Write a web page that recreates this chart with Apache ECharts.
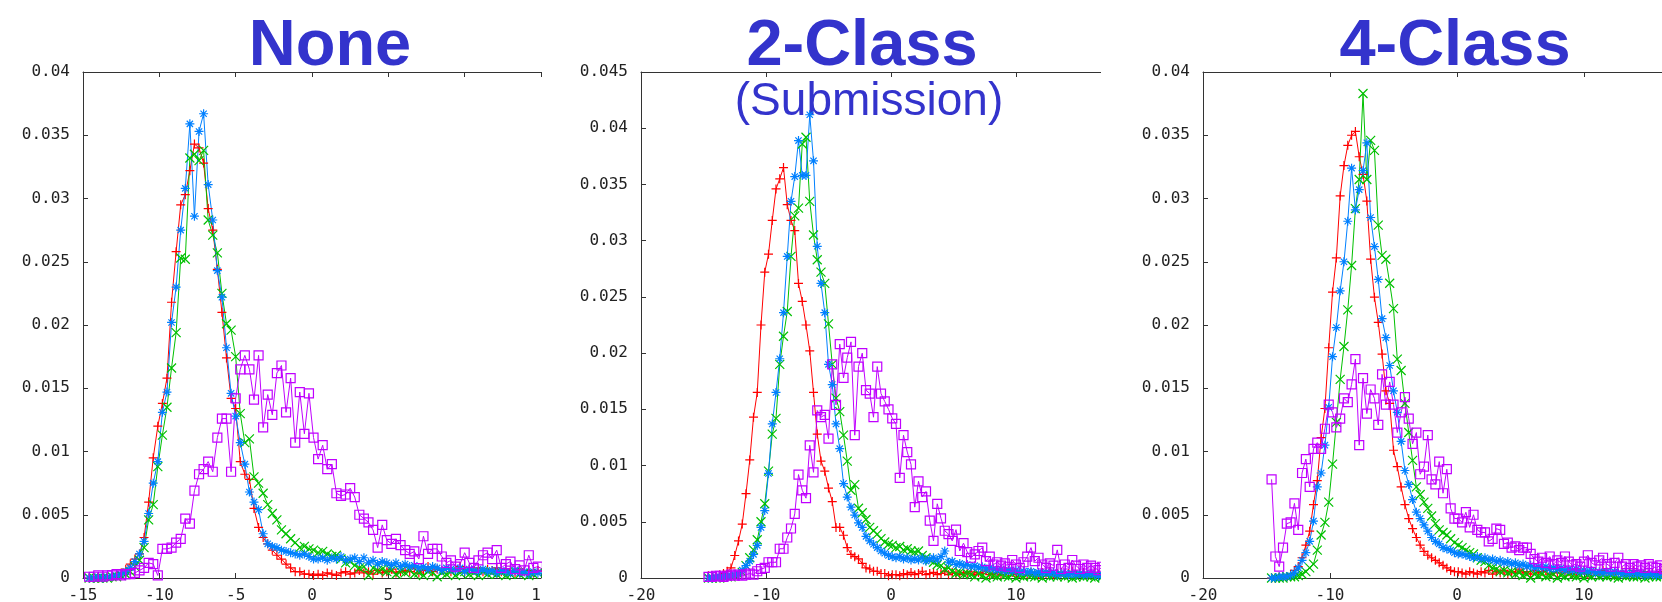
<!DOCTYPE html>
<html>
<head>
<meta charset="utf-8">
<script src="https://cdn.jsdelivr.net/npm/echarts@6/dist/echarts.min.js"></script>
<style>
html, body { margin: 0; padding: 0; background: #fff; }
#wrap { position: relative; width: 1662px; height: 602px; overflow: hidden; }
.cut { position: absolute; top: 0; height: 602px; overflow: hidden; }
.cut > div { height: 602px; }
</style>
</head>
<body>
<div id="wrap">
  <div class="cut" style="left:0;width:542px"><div id="p1" style="width:620px"></div></div>
  <div class="cut" style="left:542px;width:559px"><div id="p2" style="width:700px"></div></div>
  <div class="cut" style="left:1101px;width:561px"><div id="p3" style="width:700px"></div></div>
</div>
<script>
// bin centres shared by all histograms
var binX = [
  -14.6,-14.3,-14.0,-13.7,-13.4,-13.1,-12.8,-12.5,-12.2,-11.9,
  -11.6,-11.3,-11.0,-10.7,-10.4,-10.1,-9.8,-9.5,-9.2,-8.9,
  -8.6,-8.3,-8.0,-7.7,-7.4,-7.1,-6.8,-6.5,-6.2,-5.9,
  -5.6,-5.3,-5.0,-4.7,-4.4,-4.1,-3.8,-3.5,-3.2,-2.9,
  -2.6,-2.3,-2.0,-1.7,-1.4,-1.1,-0.8,-0.5,-0.2,0.1,
  0.4,0.7,1.0,1.3,1.6,1.9,2.2,2.5,2.8,3.1,
  3.4,3.7,4.0,4.3,4.6,4.9,5.2,5.5,5.8,6.1,
  6.4,6.7,7.0,7.3,7.6,7.9,8.2,8.5,8.8,9.1,
  9.4,9.7,10.0,10.3,10.6,10.9,11.2,11.5,11.8,12.1,
  12.4,12.7,13.0,13.3,13.6,13.9,14.2,14.5,14.8,15.1,
  15.4,15.7,16.0,16.3,16.6,16.9
];

// ---- None ----
var noneRed = [
  0,0,0,0,0.0001,0.0001,0.0002,0.0004,0.0007,0.0011,
  0.0015,0.0019,0.0032,0.006,0.0095,0.012,0.0138,0.0158,0.0218,0.0258,
  0.0295,0.0303,0.0322,0.0343,0.034,0.0328,0.0292,0.0275,0.0244,0.021,
  0.0174,0.0142,0.0134,0.0092,0.0082,0.0078,0.0055,0.004,0.0032,0.0027,
  0.0022,0.0018,0.0015,0.0011,0.0008,0.0005,0.0005,0.0003,0.0003,0.0002,
  0.0003,0.0002,0.0004,0.0003,0.0002,0.0004,0.0005,0.0003,0.0004,0.0006,
  0.0004,0.0005,0.0003,0.0006,0.0004,0.0005,0.0007,0.0004,0.0005,0.0006,
  0.0005,0.0008,0.0004,0.0006,0.0009,0.0005,0.0007,0.0006,0.0008,0.0005,
  0.0006,0.0009,0.0005,0.0007,0.0006,0.0008,0.0005,0.0007,0.0006,0.0008,
  0.0005,0.0007,0.0006,0.0004,0.0007,0.0005,0.0006,0.0004,0.0006,0.0005,
  0.0004,0.0006,0.0005,0.0004,0.0005,0.0004
];
var noneGreen = [
  0,0,0,0,0,0.0001,0.0001,0.0002,0.0003,0.0005,
  0.0009,0.0014,0.0024,0.0046,0.0058,0.0088,0.0113,0.0135,0.0166,0.0194,
  0.0253,0.0252,0.0332,0.0335,0.033,0.0338,0.0283,0.0271,0.0257,0.0225,
  0.0201,0.0196,0.0175,0.013,0.0107,0.011,0.008,0.0075,0.0067,0.0058,
  0.0051,0.0046,0.0038,0.0035,0.0031,0.0028,0.0024,0.0025,0.0023,0.0022,
  0.002,0.0021,0.0019,0.0017,0.0018,0.0015,0.0012,0.0013,0.001,0.0008,
  0.0009,0.0002,0.0008,0.0006,0.0007,0.0005,0.0006,0.0003,0.0005,0.0004,
  0.0006,0.0003,0.0004,0.0002,0.0005,0.0004,0.0001,0.0004,0.0003,0.0005,
  0.0002,0.0004,0.0005,0.0003,0.0004,0.0002,0.0005,0.0003,0.0004,0.0003,
  0.0004,0.0002,0.0003,0.0005,0.0003,0.0004,0.0002,0.0003,0.0004,0.0003,
  0.0002,0.0004,0.0003,0.0002,0.0003,0.0002
];
var noneBlue = [
  0,0,0.0001,0,0.0001,0.0001,0.0002,0.0003,0.0005,0.0008,
  0.0013,0.0019,0.0029,0.0051,0.0075,0.0092,0.0131,0.0147,0.0202,0.023,
  0.0275,0.0308,0.0359,0.0286,0.0353,0.0367,0.0311,0.0283,0.0243,0.0222,
  0.0182,0.0146,0.0128,0.0107,0.009,0.0068,0.006,0.0054,0.0035,0.0027,
  0.0025,0.0024,0.0022,0.0021,0.002,0.0019,0.0018,0.0019,0.0017,0.0015,
  0.0015,0.0016,0.0014,0.0016,0.0015,0.0017,0.0014,0.0015,0.0016,0.0013,
  0.0016,0.0012,0.0014,0.0011,0.0013,0.0012,0.001,0.0012,0.0009,0.0011,
  0.0009,0.001,0.0008,0.0009,0.0007,0.0009,0.0008,0.0006,0.0008,0.0007,
  0.0006,0.0008,0.0005,0.0007,0.0006,0.0005,0.0007,0.0005,0.0006,0.0004,
  0.0006,0.0005,0.0004,0.0006,0.0004,0.0005,0.0003,0.0005,0.0004,0.0003,
  0.0004,0.0003,0.0004,0.0003,0.0003,0.0002
];
var noneMagenta = [
  0.0001,0.0001,0.0002,0.0001,0.0002,0.0002,0.0003,0.0002,0.0003,0.0003,
  0.0004,0.0006,0.0008,0.0012,0.0011,0.0002,0.0023,0.0023,0.0024,0.0028,
  0.0031,0.0047,0.0043,0.0069,0.0082,0.0086,0.0092,0.0084,0.0111,0.0126,
  0.0126,0.0084,0.0142,0.0165,0.0176,0.0165,0.0141,0.0176,0.0119,0.0145,
  0.0129,0.0162,0.0168,0.0131,0.0158,0.0107,0.0147,0.0114,0.0146,0.0111,
  0.0094,0.0105,0.0086,0.009,0.0067,0.0065,0.0066,0.0071,0.0064,0.005,
  0.0047,0.0044,0.0038,0.0024,0.0042,0.003,0.0027,0.0031,0.0026,0.0022,
  0.0019,0.0021,0.0015,0.0033,0.0019,0.0023,0.0023,0.0017,0.0012,0.0014,
  0.0009,0.0011,0.002,0.0012,0.0008,0.0014,0.0018,0.002,0.0015,0.0022,
  0.0008,0.0011,0.0013,0.0007,0.001,0.0006,0.0018,0.0008,0.0009,0.0007,
  0.0011,0.0006,0.0009,0.0005,0.0008,0.0006
];

// ---- 2-Class ----
var twoRed = [
  0.0002,0.0002,0.0002,0.0003,0.0004,0.0006,0.0009,0.002,0.0033,0.0048,
  0.0075,0.0105,0.0143,0.0165,0.0225,0.0272,0.0288,0.0318,0.0346,0.0355,
  0.0365,0.0332,0.0318,0.0309,0.0262,0.0246,0.0225,0.0202,0.0165,0.0128,
  0.0104,0.0095,0.008,0.0068,0.0045,0.0045,0.0038,0.0027,0.0021,0.0019,
  0.0017,0.0013,0.0009,0.0008,0.0006,0.0006,0.0004,0.0004,0.0002,0.0003,
  0.0003,0.0002,0.0004,0.0003,0.0005,0.0003,0.0004,0.0006,0.0003,0.0004,
  0.0005,0.0003,0.0004,0.0006,0.0003,0.0005,0.0004,0.0003,0.0005,0.0004,
  0.0006,0.0003,0.0005,0.0004,0.0007,0.0003,0.0004,0.0005,0.0003,0.0006,
  0.0004,0.0005,0.0003,0.0004,0.0006,0.0003,0.0005,0.0004,0.0003,0.0005,
  0.0004,0.0006,0.0003,0.0004,0.0005,0.0003,0.0004,0.0006,0.0003,0.0004,
  0.0005,0.0003,0.0004,0.0005,0.0003,0.0004
];
var twoGreen = [
  0,0,0,0,0.0001,0.0001,0.0001,0.0002,0.0003,0.0005,
  0.0011,0.0018,0.0025,0.0034,0.005,0.0066,0.0095,0.0128,0.0142,0.019,
  0.0215,0.0237,0.0286,0.0322,0.0329,0.0386,0.0392,0.0335,0.0305,0.0283,
  0.0272,0.0262,0.0226,0.019,0.016,0.0148,0.0127,0.0104,0.0078,0.0083,
  0.0062,0.0058,0.0052,0.0045,0.0042,0.0039,0.0035,0.0032,0.003,0.0029,
  0.0027,0.0028,0.0025,0.0026,0.0024,0.0023,0.0024,0.002,0.0018,0.0016,
  0.0014,0.0012,0.0011,0.0008,0.0009,0.0006,0.0004,0.0005,0.0003,0.0004,
  0.0003,0.0001,0.0004,0.0002,0,0.0003,0.0002,0.0001,0.0003,0.0002,
  0.0001,0.0003,0,0.0002,0.0001,0.0003,0.0002,0.0001,0.0002,0,
  0.0003,0.0001,0.0002,0.0001,0.0003,0.0001,0.0002,0,0.0001,0.0002,
  0.0001,0.0002,0.0001,0,0.0002,0.0001
];
var twoBlue = [
  0,0,0.0001,0.0001,0.0001,0.0002,0.0002,0.0003,0.0004,0.0007,
  0.0011,0.0015,0.0021,0.0029,0.0045,0.006,0.0093,0.0137,0.0165,0.0195,
  0.0236,0.0286,0.0335,0.0357,0.0389,0.0358,0.0358,0.0412,0.0371,0.0295,
  0.0262,0.0236,0.019,0.0172,0.0137,0.0115,0.0084,0.0072,0.0063,0.0056,
  0.0049,0.0045,0.0037,0.0033,0.003,0.0027,0.0024,0.0022,0.002,0.0019,
  0.0018,0.0019,0.0017,0.0018,0.0016,0.0017,0.0016,0.0018,0.0015,0.0017,
  0.0018,0.0016,0.0019,0.0024,0.0014,0.0015,0.0012,0.0013,0.0011,0.0012,
  0.001,0.0011,0.0009,0.001,0.0008,0.0009,0.0008,0.0007,0.0008,0.0006,
  0.0007,0.0006,0.0007,0.0005,0.0006,0.0005,0.0006,0.0004,0.0005,0.0004,
  0.0005,0.0004,0.0005,0.0003,0.0004,0.0004,0.0003,0.0004,0.0003,0.0004,
  0.0003,0.0003,0.0004,0.0003,0.0002,0.0003
];
var twoMagenta = [
  0.0001,0.0001,0.0002,0.0002,0.0001,0.0002,0.0003,0.0002,0.0003,0.0002,
  0.0003,0.0004,0.0003,0.0006,0.0008,0.0009,0.0014,0.0014,0.0014,0.0026,
  0.0026,0.0036,0.0044,0.0057,0.0092,0.0078,0.0071,0.0118,0.0094,0.0149,
  0.0143,0.0145,0.0124,0.019,0.0154,0.0208,0.0178,0.0196,0.021,0.0127,
  0.0188,0.02,0.0167,0.0164,0.0143,0.0188,0.0164,0.0157,0.015,0.0142,
  0.0137,0.0089,0.0127,0.0112,0.0101,0.0063,0.0086,0.0072,0.0077,0.0051,
  0.0033,0.0066,0.0053,0.0042,0.0039,0.0033,0.0043,0.0024,0.0031,0.0023,
  0.0018,0.0021,0.0024,0.0027,0.0015,0.0019,0.0012,0.0014,0.0011,0.0013,
  0.001,0.0016,0.0012,0.0009,0.0014,0.0019,0.0027,0.0015,0.0018,0.0012,
  0.0009,0.0013,0.0011,0.0025,0.0008,0.0012,0.0009,0.0016,0.0011,0.0008,
  0.0012,0.0009,0.0011,0.0009,0.0007,0.001
];

// ---- 4-Class ----
var fourRed = [
  0,0,0.0001,0.0001,0.0001,0.0003,0.0006,0.0009,0.0016,0.0026,
  0.0037,0.0058,0.0077,0.0111,0.0134,0.0182,0.0226,0.0253,0.0302,0.0326,
  0.0342,0.035,0.0353,0.0333,0.0319,0.0298,0.0252,0.0222,0.0202,0.0177,
  0.0148,0.0138,0.0101,0.0088,0.0072,0.0058,0.0047,0.0039,0.0032,0.0026,
  0.0021,0.0018,0.0016,0.0014,0.0012,0.001,0.0008,0.0006,0.0005,0.0005,
  0.0004,0.0003,0.0005,0.0004,0.0003,0.0005,0.0004,0.0006,0.0003,0.0005,
  0.0004,0.0006,0.0003,0.0005,0.0004,0.0007,0.0004,0.0005,0.0003,0.0006,
  0.0004,0.0005,0.0006,0.0003,0.0005,0.0004,0.0006,0.0004,0.0005,0.0003,
  0.0005,0.0004,0.0006,0.0003,0.0004,0.0005,0.0003,0.0006,0.0004,0.0005,
  0.0003,0.0004,0.0005,0.0003,0.0004,0.0006,0.0003,0.0004,0.0005,0.0003,
  0.0004,0.0003,0.0005,0.0003,0.0004,0.0003
];
var fourGreen = [
  0,0,0,0,0.0001,0.0001,0.0001,0.0002,0.0003,0.0005,
  0.0008,0.0011,0.0022,0.0034,0.0044,0.006,0.009,0.0123,0.0157,0.0183,
  0.0212,0.0247,0.0292,0.0315,0.0383,0.0315,0.0346,0.0338,0.0279,0.0255,
  0.0252,0.0233,0.0213,0.0173,0.0164,0.0138,0.0115,0.0093,0.0072,0.0066,
  0.006,0.0055,0.0049,0.0043,0.0038,0.0036,0.0034,0.0031,0.0028,0.0026,
  0.0024,0.0022,0.002,0.0019,0.0016,0.0014,0.0013,0.001,0.0008,0.0007,
  0.0005,0.0006,0.0004,0.0005,0.0003,0.0004,0.0002,0.0003,0,0.0003,
  0.0002,0.0003,0.0001,0.0002,0.0003,0,0.0002,0.0001,0.0003,0.0002,
  0.0001,0.0002,0,0.0002,0.0001,0.0003,0.0001,0.0002,0.0001,0.0002,
  0.0001,0,0.0002,0.0001,0.0002,0.0001,0.0001,0.0002,0,0.0001,
  0.0002,0.0001,0.0001,0.0002,0.0001,0
];
var fourBlue = [
  0,0,0.0001,0.0001,0.0001,0.0002,0.0004,0.0008,0.0014,0.002,
  0.0029,0.0045,0.0072,0.0083,0.0105,0.0135,0.0175,0.0198,0.0227,0.025,
  0.0282,0.0324,0.0291,0.0307,0.0322,0.0344,0.0285,0.0262,0.0236,0.0205,
  0.019,0.0168,0.0148,0.0131,0.0108,0.0085,0.0074,0.0062,0.0052,0.0047,
  0.0042,0.0037,0.0032,0.0029,0.0027,0.0024,0.0023,0.0022,0.002,0.0019,
  0.0019,0.0018,0.0017,0.0016,0.0017,0.0015,0.0016,0.0014,0.0015,0.0013,
  0.0014,0.0012,0.0013,0.0011,0.0012,0.001,0.0011,0.0009,0.001,0.0008,
  0.0009,0.0008,0.0009,0.0007,0.0008,0.0007,0.0008,0.0006,0.0007,0.0006,
  0.0007,0.0005,0.0006,0.0005,0.0006,0.0004,0.0005,0.0004,0.0005,0.0004,
  0.0005,0.0004,0.0003,0.0004,0.0003,0.0004,0.0003,0.0004,0.0002,0.0003,
  0.0003,0.0002,0.0003,0.0002,0.0003,0.0002
];
var fourMagenta = [
  0.0078,0.0017,0.0009,0.0024,0.0043,0.0044,0.0059,0.0038,0.0083,0.0094,
  0.0072,0.0102,0.0107,0.0102,0.0118,0.0137,0.0131,0.0119,0.0126,0.0142,
  0.0139,0.0153,0.0173,0.0105,0.0158,0.013,0.0149,0.0142,0.0121,0.0161,
  0.0137,0.0155,0.0137,0.0115,0.0131,0.0143,0.0126,0.0106,0.0115,0.0082,
  0.0088,0.0113,0.0078,0.0074,0.0092,0.0067,0.0086,0.0055,0.0047,0.0047,
  0.0044,0.0052,0.004,0.005,0.0038,0.0036,0.0036,0.0029,0.0031,0.0039,
  0.0038,0.0027,0.0028,0.0024,0.0025,0.0022,0.0024,0.0024,0.0019,0.0015,
  0.0013,0.0016,0.0012,0.0017,0.0011,0.0014,0.0012,0.0017,0.0013,0.001,
  0.0011,0.0009,0.0013,0.0018,0.0012,0.001,0.0014,0.0016,0.0011,0.0009,
  0.0012,0.0016,0.0009,0.0011,0.0008,0.0011,0.0009,0.001,0.0008,0.0011,
  0.0009,0.0008,0.001,0.0007,0.0009,0.0008
];

var colors = ['#ff0000', '#00c000', '#0080ff', '#c000ff'];
var marks = [
  'path://M0,5L10,5M5,0L5,10',
  'path://M0,0L10,10M10,0L0,10',
  'path://M0,5L10,5M5,0L5,10M1.5,1.5L8.5,8.5M8.5,1.5L1.5,8.5',
  'path://M0,0L10,0L10,10L0,10Z'
];

var labelFont = { fontFamily: 'DejaVu Sans Mono', fontSize: 16, color: '#222' };
var titleColor = '#3333cc';

function makeSeries(lists) {
  return lists.map(function (vals, s) {
    return {
      type: 'line',
      data: binX.map(function (x, i) { return [x, vals[i]]; }),
      symbol: marks[s],
      symbolSize: 9,
      showSymbol: true,
      showAllSymbol: true,
      silent: true,
      lineStyle: { color: colors[s], width: 1 },
      itemStyle: { color: 'rgba(0,0,0,0)', borderColor: colors[s], borderWidth: 1.2 }
    };
  });
}

function titleText(text, x, y, size, weight) {
  return {
    type: 'text', x: x, y: y, silent: true,
    style: {
      text: text, fill: titleColor,
      font: weight + ' ' + size + 'px "Liberation Sans", Arial, sans-serif',
      textAlign: 'center', textVerticalAlign: 'middle',
      align: 'center', verticalAlign: 'middle'
    }
  };
}

function panel(id, cfg) {
  var chart = echarts.init(document.getElementById(id));
  var axisBase = {
    type: 'value', min: cfg.xmin, max: cfg.xmax, interval: cfg.xstep,
    axisLine: { show: true, onZero: false, lineStyle: { color: '#333', width: 1 } },
    axisTick: { show: true, inside: true, length: 5, lineStyle: { color: '#333' } },
    splitLine: { show: false }
  };
  chart.setOption({
    animation: false,
    grid: { left: cfg.left, right: cfg.right, top: 72, bottom: 24, containLabel: false, outerBoundsMode: 'none' },
    xAxis: [
      Object.assign({}, axisBase, {
        position: 'bottom',
        axisLabel: Object.assign({ margin: 10 }, labelFont)
      }),
      Object.assign({}, axisBase, { position: 'top', axisLabel: { show: false } })
    ],
    yAxis: {
      type: 'value', min: 0, max: cfg.ymax, interval: 0.005,
      axisLine: { show: true, onZero: false, lineStyle: { color: '#333', width: 1 } },
      axisTick: { show: true, inside: true, length: 5, lineStyle: { color: '#333' } },
      splitLine: { show: false },
      axisLabel: Object.assign({
        margin: 13,
        formatter: function (v) { return v === 0 ? '0' : String(+v.toFixed(3)); }
      }, labelFont)
    },
    graphic: cfg.titles,
    series: makeSeries(cfg.lists)
  });
}

panel('p1', {
  left: 83, right: 79, xmin: -15, xmax: 15, xstep: 5, ymax: 0.04,
  lists: [noneRed, noneGreen, noneBlue, noneMagenta],
  titles: [titleText('None', 330, 47, 65, 'bold')]
});
panel('p2', {
  left: 99, right: 101, xmin: -20, xmax: 20, xstep: 10, ymax: 0.045,
  lists: [twoRed, twoGreen, twoBlue, twoMagenta],
  titles: [titleText('2-Class', 320, 47, 65, 'bold'), titleText('(Submission)', 327, 102, 46, 'normal')]
});
panel('p3', {
  left: 102, right: 90, xmin: -20, xmax: 20, xstep: 10, ymax: 0.04,
  lists: [fourRed, fourGreen, fourBlue, fourMagenta],
  titles: [titleText('4-Class', 354, 47, 65, 'bold')]
});
</script>
</body>
</html>
